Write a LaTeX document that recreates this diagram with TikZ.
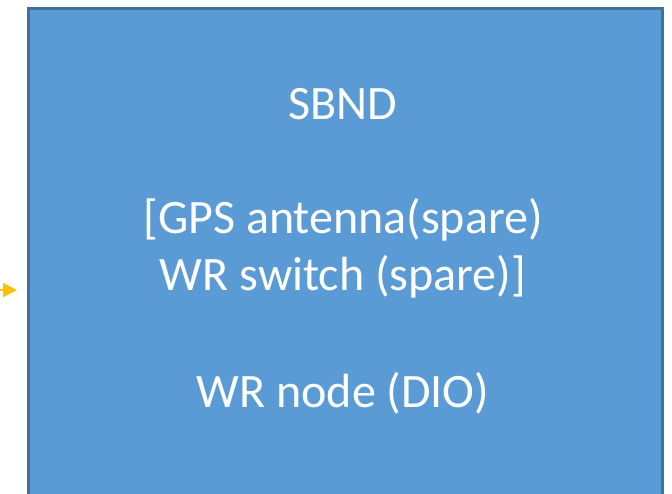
\documentclass[tikz,border=0pt]{standalone}
\usepackage{fontspec}
\setmainfont{Carlito}
\usetikzlibrary{arrows.meta}
\definecolor{boxfill}{HTML}{5B9BD5}
\definecolor{boxedge}{HTML}{41719C}
\definecolor{arrowyellow}{HTML}{FFC000}
\tikzset{
  bigbox/.style={fill=boxfill, draw=boxedge, line width=3pt},
  boxtext/.style={text=white, font=\fontsize{48}{58}\selectfont, anchor=base, inner sep=0pt},
  feed/.style={draw=arrowyellow, line width=2pt, -{Triangle[length=14pt,width=14pt]}}
}
\begin{document}
\begin{tikzpicture}[x=1pt,y=-1pt]
\useasboundingbox (0,0) rectangle (672,493);
\clip (0,0) rectangle (672,493);
\node[bigbox, minimum width=634pt, minimum height=560pt, anchor=north west, inner sep=0pt] (box) at (26.5,6.5) {};
\node[boxtext] (title) at (343,119) {SBND};
\node[boxtext] (gps) at (343,233) {[GPS antenna(spare)};
\node[boxtext] (sw) at (343,290) {WR switch (spare)]};
\node[boxtext] (wr) at (343,407) {WR node (DIO)};
\coordinate (src) at (-30,290);
\coordinate (tip) at (17,290);
\draw[feed] (src) -- (tip);
\end{tikzpicture}
\end{document}
